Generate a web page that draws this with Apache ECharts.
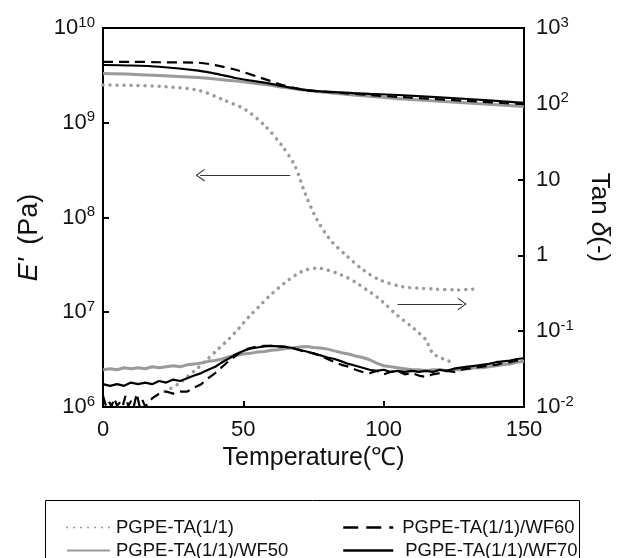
<!DOCTYPE html>
<html><head><meta charset="utf-8">
<script src="https://cdn.jsdelivr.net/npm/echarts@6/dist/echarts.min.js"></script>
<style>html,body{margin:0;padding:0;background:#fff}#c{width:620px;height:558px}</style>
</head><body><div id="c"></div>
<script>
// ---------- DATA ----------
const seriesNames = ['PGPE-TA(1/1)', 'PGPE-TA(1/1)/WF50', 'PGPE-TA(1/1)/WF60', 'PGPE-TA(1/1)/WF70'];
const xTicks = [0, 50, 100, 150];
const leftTickExps = [6, 7, 8, 9, 10];
const rightTickLabels = { '-2': '10^-2', '-1': '10^-1', '0': '1', '1': '10', '2': '10^2', '3': '10^3' };

// E' (Pa) vs temperature (°C)
const eT_PGPE = [0, 10, 22, 34, 43, 51, 58, 64, 68.4, 72, 76, 81, 87, 92.7, 98.5, 106.6, 112, 118, 126, 130, 133];
const eV_PGPE = [2.5e9, 2.48e9, 2.4e9, 2.2e9, 1.74e9, 1.36e9, 9.1e8, 5.6e8, 3.5e8, 1.8e8, 9.8e7, 5.8e7, 3.9e7, 2.8e7, 2.2e7, 1.86e7, 1.8e7, 1.76e7, 1.72e7, 1.74e7, 1.76e7];
const eT_WF = [0, 10, 20, 34, 40, 47.6, 59, 65, 73, 83.4, 95, 107, 130, 150];
const eV_WF50 = [3.3e9, 3.25e9, 3.15e9, 3.0e9, 2.9e9, 2.75e9, 2.5e9, 2.35e9, 2.19e9, 2.04e9, 1.9e9, 1.78e9, 1.62e9, 1.48e9];
const eV_WF60 = [4.4e9, 4.4e9, 4.35e9, 4.3e9, 4.05e9, 3.6e9, 2.8e9, 2.45e9, 2.2e9, 2.08e9, 1.96e9, 1.86e9, 1.7e9, 1.57e9];
const eV_WF70 = [4.07e9, 4.02e9, 3.9e9, 3.55e9, 3.3e9, 2.95e9, 2.6e9, 2.4e9, 2.2e9, 2.1e9, 2.02e9, 1.95e9, 1.78e9, 1.62e9];

// tan delta (-) vs temperature (°C)
const tT_PGPE = [22, 26.7, 30, 33.5, 37, 41, 45, 48.5, 52, 55.5, 59, 62.5, 66, 69, 72, 76.5, 80, 83.5, 87, 90.5, 94, 97.5, 101, 104, 107, 110, 112.5, 115, 117.5, 120, 122, 125];
const tV_PGPE = [0.016, 0.020, 0.025, 0.032, 0.042, 0.058, 0.080, 0.11, 0.155, 0.21, 0.285, 0.37, 0.47, 0.56, 0.64, 0.68, 0.64, 0.58, 0.51, 0.43, 0.35, 0.285, 0.22, 0.172, 0.14, 0.115, 0.095, 0.077, 0.051, 0.045, 0.042, 0.038];
const tT_WF = [0, 2.5, 5, 7.5, 10, 12.5, 15, 17.5, 20, 22.5, 25, 27.5, 30, 32.5, 35, 37.5, 40, 42.5, 45, 47.5, 50, 52.5, 55, 57.5, 60, 62.5, 65, 67.5, 70, 72.5, 75, 77.5, 80, 82.5, 85, 87.5, 90, 92.5, 95, 97.5, 100, 102.5, 105, 107.5, 110, 112.5, 115, 117.5, 120, 122.5, 125, 127.5, 130, 132.5, 135, 137.5, 140, 142.5, 145, 147.5, 150];
const tV_WF50 = [0.031, 0.032, 0.031, 0.033, 0.032, 0.033, 0.032, 0.034, 0.033, 0.034, 0.035, 0.034, 0.036, 0.037, 0.038, 0.040, 0.041, 0.043, 0.046, 0.048, 0.050, 0.051, 0.053, 0.054, 0.056, 0.057, 0.059, 0.060, 0.062, 0.063, 0.061, 0.060, 0.058, 0.055, 0.052, 0.050, 0.047, 0.045, 0.042, 0.038, 0.035, 0.034, 0.033, 0.032, 0.031, 0.031, 0.030, 0.031, 0.031, 0.030, 0.031, 0.031, 0.032, 0.033, 0.033, 0.034, 0.035, 0.036, 0.037, 0.039, 0.040];
const tV_WF70 = [0.020, 0.019, 0.020, 0.019, 0.021, 0.020, 0.021, 0.020, 0.022, 0.021, 0.023, 0.022, 0.024, 0.026, 0.028, 0.031, 0.034, 0.039, 0.044, 0.050, 0.055, 0.059, 0.061, 0.063, 0.064, 0.063, 0.062, 0.060, 0.057, 0.054, 0.051, 0.048, 0.045, 0.043, 0.040, 0.037, 0.035, 0.033, 0.031, 0.030, 0.031, 0.029, 0.030, 0.029, 0.030, 0.029, 0.030, 0.029, 0.031, 0.030, 0.032, 0.033, 0.034, 0.035, 0.036, 0.037, 0.039, 0.040, 0.041, 0.043, 0.044];
const tT_WF60 = [0, 1, 2, 3, 4, 5, 6, 7, 8, 9, 10, 11, 12, 13, 14, 15, 16, 17.5, 20, 22.5, 25, 27.5, 30, 32.5, 35, 37.5, 40, 42.5, 45, 47.5, 50, 52.5, 55, 57.5, 60, 62.5, 65, 67.5, 70, 72.5, 75, 77.5, 80, 82.5, 85, 87.5, 90, 92.5, 95, 97.5, 100, 102.5, 105, 107.5, 110, 112.5, 115, 117.5, 120, 122.5, 125, 127.5, 130, 132.5, 135, 137.5, 140, 142.5, 145, 147.5, 150];
const tV_WF60 = [0.014, 0.0105, 0.012, 0.0102, 0.013, 0.0104, 0.0115, 0.0102, 0.014, 0.0103, 0.012, 0.0102, 0.015, 0.0104, 0.0125, 0.0102, 0.011, 0.013, 0.015, 0.016, 0.015, 0.016, 0.016, 0.018, 0.020, 0.024, 0.028, 0.034, 0.041, 0.048, 0.056, 0.060, 0.063, 0.064, 0.064, 0.063, 0.062, 0.060, 0.056, 0.053, 0.051, 0.047, 0.043, 0.039, 0.036, 0.034, 0.031, 0.029, 0.028, 0.030, 0.027, 0.029, 0.030, 0.027, 0.028, 0.026, 0.025, 0.027, 0.028, 0.030, 0.029, 0.031, 0.032, 0.033, 0.034, 0.035, 0.036, 0.038, 0.039, 0.041, 0.042];

// annotation arrows (temperature, E')
const arrowLeft = [[66.7, 2.8e8], [34.6, 2.8e8]];
const arrowRight = [[105, 1.22e7], [128, 1.22e7]];

// ---------- CHART ----------
const FONT = 'Liberation Sans, Arial, sans-serif';
const zip = (xs, ys) => xs.map((x, i) => [x, ys[i]]);
const chevron = 'path://M0,0L7,10L5.6,10L0,2L-5.6,10L-7,10Z';

const dotStyle = { color: '#9a9a9a', width: 3.5, type: [0.01, 7], cap: 'round' };
const grayStyle = { color: '#9a9a9a', width: 3 };
const dashStyle = { color: '#000', width: 2.2, type: [10, 6] };
const blackStyle = { color: '#000', width: 2.2 };
const styles = [dotStyle, grayStyle, dashStyle, blackStyle];
const colors = ['#9a9a9a', '#9a9a9a', '#000', '#000'];

function mk(name, idx, yAxisIndex, data, extra) {
  return Object.assign({
    name, type: 'line', yAxisIndex, data, showSymbol: false, symbol: 'none',
    lineStyle: styles[idx], itemStyle: { color: colors[idx] }, silent: true, animation: false, z: 3 + idx
  }, extra || {});
}

const series = [
  mk(seriesNames[0], 0, 0, zip(eT_PGPE, eV_PGPE), {
    smooth: 0.3,
    markLine: {
      silent: true, animation: false, symbol: ['none', chevron], symbolSize: [13, 9],
      label: { show: false }, lineStyle: { color: '#333', width: 1, type: 'solid' },
      data: [
        [{ coord: arrowLeft[0] }, { coord: arrowLeft[1] }],
        [{ coord: arrowRight[0] }, { coord: arrowRight[1] }]
      ]
    }
  }),
  mk(seriesNames[1], 1, 0, zip(eT_WF, eV_WF50), { smooth: 0.3 }),
  mk(seriesNames[2], 2, 0, zip(eT_WF, eV_WF60), { smooth: 0.3 }),
  mk(seriesNames[3], 3, 0, zip(eT_WF, eV_WF70), { smooth: 0.3 }),
  mk(seriesNames[0], 0, 1, zip(tT_PGPE, tV_PGPE), { smooth: 0.3 }),
  mk(seriesNames[1], 1, 1, zip(tT_WF, tV_WF50)),
  mk(seriesNames[2], 2, 1, zip(tT_WF60, tV_WF60)),
  mk(seriesNames[3], 3, 1, zip(tT_WF, tV_WF70))
];

const supRich = {
  b: { fontSize: 22, fontFamily: FONT, color: '#111', lineHeight: 26 },
  s: { fontSize: 15, fontFamily: FONT, color: '#111', lineHeight: 15, verticalAlign: 'top' }
};
function supLabel(str) {
  const m = str.match(/^10\^(.+)$/);
  return m ? '{b|10}{s|' + m[1] + '}' : '{b|' + str + '}';
}

function legendAt(name, left, top, w, textGap, lineStyle) {
  const lg = {
    data: [name], left, top, orient: 'horizontal', itemWidth: w, itemHeight: 14,
    itemStyle: { opacity: 0 }, selectedMode: false,
    textStyle: { fontSize: 18.5, fontFamily: FONT, color: '#111', padding: [0, 0, 0, textGap] }
  };
  if (lineStyle) lg.lineStyle = lineStyle;
  return lg;
}

const chart = echarts.init(document.getElementById('c'), null, { renderer: 'canvas' });
chart.setOption({
  backgroundColor: '#fff',
  animation: false,
  grid: { left: 103, right: 86, top: 28, bottom: 151, show: true, borderColor: '#000', borderWidth: 2, backgroundColor: 'transparent' },
  legend: [
    legendAt(seriesNames[0], 61, 513, 43, 1),
    legendAt(seriesNames[1], 61, 536, 43, 1),
    legendAt(seriesNames[2], 337, 513, 50, 4, { type: [15, 8], width: 2.5 }),
    legendAt(seriesNames[3], 337, 536, 50, 7, { width: 2.5 })
  ],
  graphic: [{
    type: 'rect', left: 43, top: 498, shape: { width: 534, height: 64 },
    style: { fill: 'none', stroke: '#000', lineWidth: 1 }, silent: true
  }],
  xAxis: {
    type: 'value', min: xTicks[0], max: xTicks[xTicks.length - 1], interval: 50,
    name: 'Temperature(\u2103)', nameLocation: 'middle', nameGap: 36,
    nameTextStyle: { fontSize: 25, fontFamily: FONT, color: '#111' },
    axisLine: { lineStyle: { color: '#000', width: 2 } },
    axisTick: { inside: true, length: 6, lineStyle: { color: '#000', width: 2 } },
    axisLabel: { fontSize: 22, fontFamily: FONT, color: '#111', margin: 12 },
    splitLine: { show: false }
  },
  yAxis: [{
    type: 'log', logBase: 10, min: Math.pow(10, leftTickExps[0]), max: Math.pow(10, leftTickExps[leftTickExps.length - 1]),
    position: 'left',
    name: "{i|E'}    {n|(Pa)}", nameLocation: 'middle', nameRotate: 90, nameGap: 60,
    nameTextStyle: {
      padding: [0, 40, 0, 0],
      rich: {
        i: { fontSize: 27, fontStyle: 'italic', fontFamily: FONT, color: '#111' },
        n: { fontSize: 27, fontFamily: FONT, color: '#111' }
      }
    },
    axisLine: { show: true, lineStyle: { color: '#000', width: 2 } },
    axisTick: { show: true, inside: true, length: 6, lineStyle: { color: '#000', width: 2 } },
    minorTick: { show: false },
    axisLabel: {
      margin: 8, rich: supRich,
      formatter: v => supLabel('10^' + Math.round(Math.log10(v)))
    },
    splitLine: { show: false }
  }, {
    type: 'log', logBase: 10, min: 1e-2, max: 1e3, position: 'right',
    name: '{n|Tan }{i|\u03B4}{n|(-)}', nameLocation: 'middle', nameRotate: -90, nameGap: 62,
    nameTextStyle: {
      rich: {
        i: { fontSize: 26, fontStyle: 'italic', fontFamily: FONT, color: '#111' },
        n: { fontSize: 26, fontFamily: FONT, color: '#111' }
      }
    },
    axisLine: { show: true, lineStyle: { color: '#000', width: 2 } },
    axisTick: { show: true, inside: true, length: 6, lineStyle: { color: '#000', width: 2 } },
    axisLabel: {
      margin: 12, rich: supRich,
      formatter: v => supLabel(rightTickLabels[String(Math.round(Math.log10(v)))] || '')
    },
    splitLine: { show: false }
  }],
  series
});
</script>
</body></html>
